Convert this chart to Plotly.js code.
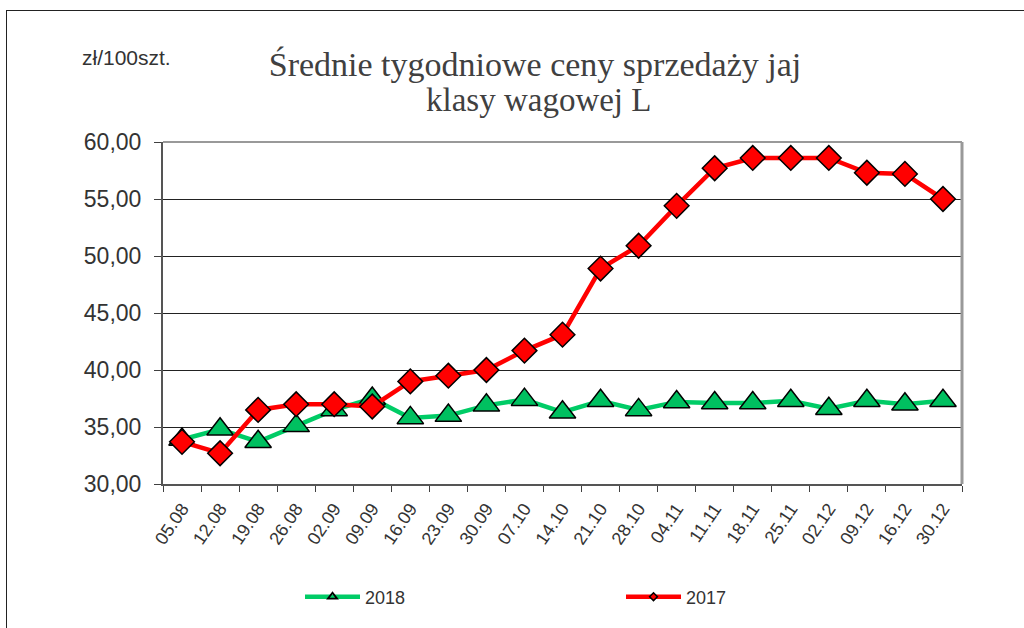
<!DOCTYPE html>
<html>
<head>
<meta charset="utf-8">
<script src="https://cdn.plot.ly/plotly-3.0.1.min.js"></script>
<style>
  html, body { margin: 0; padding: 0; background: #fff; }
  #frame { position: absolute; left: 6px; top: 10px; width: 1018px; height: 618px; border-top: 1px solid #222; border-left: 1px solid #222; }
  #chart { position: absolute; left: 0; top: 0; width: 1024px; height: 628px; }
</style>
</head>
<body>
<div id="frame"></div>
<div id="chart"></div>
<script>
const categories = ["05.08","12.08","19.08","26.08","02.09","09.09","16.09","23.09","30.09","07.10","14.10","21.10","28.10","04.11","11.11","18.11","25.11","02.12","09.12","16.12","30.12"];
const series2018 = [33.9, 34.8, 33.7, 35.1, 36.5, 37.5, 35.8, 36.0, 36.9, 37.4, 36.3, 37.3, 36.5, 37.2, 37.1, 37.1, 37.3, 36.6, 37.3, 37.0, 37.3];
const series2017 = [33.7, 32.7, 36.5, 37.0, 37.0, 36.8, 39.0, 39.5, 40.0, 41.7, 43.1, 48.9, 50.9, 54.4, 57.7, 58.6, 58.6, 58.6, 57.3, 57.2, 55.0];
const yTicks = [30, 35, 40, 45, 50, 55, 60];
const titleLines = ['Średnie tygodniowe ceny sprzedaży jaj', 'klasy wagowej L'];

const green = '#00CC66';
const greenFill = '#00C060';
const red = '#FF0000';

const traces = [
  {
    x: categories, y: series2018, type: 'scatter', mode: 'lines+markers', name: '2018',
    showlegend: false,
    line: {color: green, width: 4.5},
    marker: {symbol: 'triangle-up', size: 23, color: greenFill, line: {color: '#000', width: 1.5}}
  },
  {
    x: categories, y: series2017, type: 'scatter', mode: 'lines+markers', name: '2017',
    showlegend: false,
    line: {color: red, width: 4.5},
    marker: {symbol: 'diamond', size: 19, color: red, line: {color: '#000', width: 1.5}}
  },
  {
    x: [categories[0]], y: [null], type: 'scatter', mode: 'lines+markers', name: '2018',
    legend: 'legend',
    line: {color: green, width: 4.5},
    marker: {symbol: 'triangle-up-open', size: 8, color: '#000', line: {color: '#000', width: 1.8}}
  },
  {
    x: [categories[0]], y: [null], type: 'scatter', mode: 'lines+markers', name: '2017',
    legend: 'legend2',
    line: {color: red, width: 4.5},
    marker: {symbol: 'diamond', size: 6, color: red, line: {color: '#000', width: 1.5}}
  }
];

const plotTop = 142, plotBottom = 484, plotLeft = 163, plotRight = 962;
const ph = plotBottom - plotTop, pw = plotRight - plotLeft;

const legendCommon = {
  xref: 'paper', yref: 'paper',
  xanchor: 'left', yanchor: 'middle',
  y: (plotBottom - 597) / ph,
  itemwidth: 55,
  font: {size: 18, color: '#333'},
  bgcolor: 'rgba(0,0,0,0)'
};

const layout = {
  width: 1024, height: 628,
  margin: {l: plotLeft, r: 1024 - plotRight, t: plotTop, b: 628 - plotBottom},
  paper_bgcolor: 'rgba(0,0,0,0)',
  plot_bgcolor: '#fff',
  separators: ', ',
  font: {family: 'Liberation Sans, Arial, sans-serif', color: '#333'},
  title: {
    text: titleLines[0],
    font: {family: 'Liberation Serif, serif', size: 34, color: '#404040'},
    xref: 'container', x: 535 / 1024, xanchor: 'center',
    yref: 'container', y: 1 - 64 / 628, yanchor: 'middle'
  },
  xaxis: {
    type: 'category',
    categoryorder: 'array', categoryarray: categories,
    range: [-0.5, categories.length - 0.5],
    autorange: false,
    tickson: 'boundaries',
    ticks: 'outside', ticklen: 6, tickcolor: '#404040', tickwidth: 1,
    tickangle: -56,
    ticklabelstandoff: 5,
    tickfont: {size: 18, color: '#333'},
    automargin: false,
    showgrid: false,
    showline: true, linecolor: '#555', linewidth: 2,
    zeroline: false,
    fixedrange: true
  },
  yaxis: {
    range: [30, 60],
    autorange: false,
    tickmode: 'array', tickvals: yTicks,
    tickformat: '.2f',
    ticks: 'outside', ticklen: 7, tickcolor: '#404040', tickwidth: 1,
    ticklabelstandoff: 8,
    tickfont: {size: 23, color: '#333'},
    automargin: false,
    showgrid: true, gridcolor: '#222', gridwidth: 1,
    showline: true, linecolor: '#555', linewidth: 2,
    zeroline: false,
    fixedrange: true
  },
  shapes: [
    {type: 'line', xref: 'paper', yref: 'paper', x0: 0, x1: 1, y0: 1, y1: 1, line: {color: '#999', width: 2}},
    {type: 'line', xref: 'paper', yref: 'paper', x0: 1, x1: 1, y0: 0, y1: 1, line: {color: '#999', width: 3}}
  ],
  annotations: [
    {text: titleLines[1], xref: 'paper', yref: 'paper',
     x: (538 - plotLeft) / pw, y: (plotBottom - 100) / ph,
     xanchor: 'center', yanchor: 'middle', showarrow: false,
     font: {family: 'Liberation Serif, serif', size: 33, color: '#404040'}},
    {text: 'zł/100szt.', xref: 'paper', yref: 'paper', x: (80 - plotLeft) / pw, y: (plotBottom - 57) / ph,
     xanchor: 'left', yanchor: 'middle', showarrow: false,
     font: {family: 'Liberation Sans, Arial, sans-serif', size: 21, color: '#333'}}
  ],
  showlegend: true,
  legend: Object.assign({}, legendCommon, {x: (300 - plotLeft) / pw}),
  legend2: Object.assign({}, legendCommon, {x: (621 - plotLeft) / pw})
};

Plotly.newPlot('chart', traces, layout, {displayModeBar: false, staticPlot: true});
</script>
</body>
</html>
